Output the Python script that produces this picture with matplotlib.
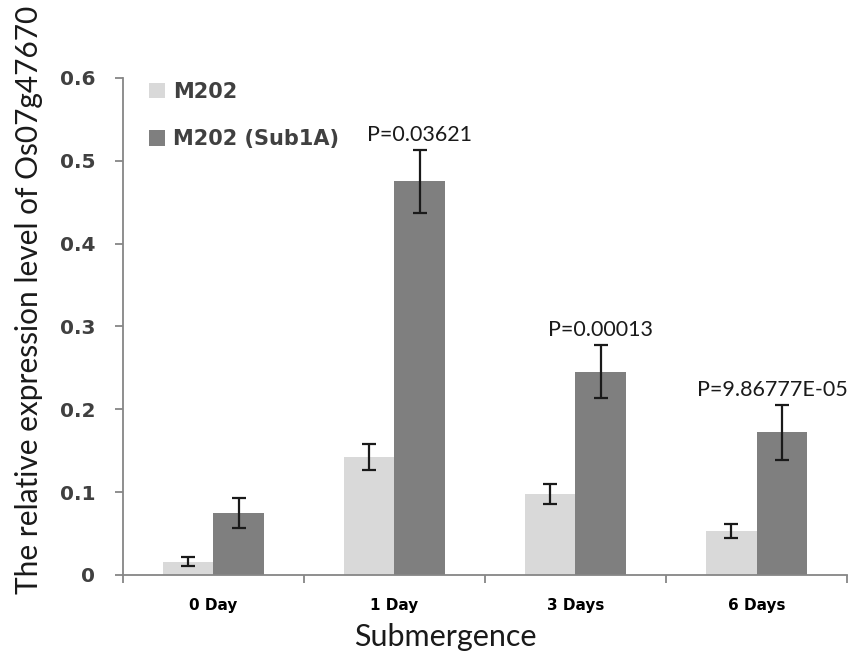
import numpy as np
import matplotlib
matplotlib.use('Agg')
import matplotlib.pyplot as plt

# data
categories = ['0 Day', '1 Day', '3 Days', '6 Days']
m202 = [0.016, 0.142, 0.098, 0.053]
m202_err = [0.005, 0.016, 0.012, 0.009]
sub1a = [0.075, 0.475, 0.245, 0.172]
sub1a_err = [0.018, 0.038, 0.032, 0.033]
p_labels = ['', 'P=0.03621', 'P=0.00013', 'P=9.86777E-05']
p_dx = [0, 0, 0, -0.05]  # last label nudged left so it fits

fig = plt.figure(figsize=(8.53, 6.6), dpi=100)
ax = fig.add_axes([0.144, 0.129, 0.849, 0.753])

x = np.arange(len(categories))
w = 0.28
ax.bar(x - w/2, m202, w, color='#d9d9d9', label='M202', zorder=2)
ax.bar(x + w/2, sub1a, w, color='#7f7f7f', label='M202 (Sub1A)', zorder=2)
ax.errorbar(x - w/2, m202, yerr=m202_err, fmt='none', ecolor='#1a1a1a',
            elinewidth=1.6, capsize=5, capthick=1.6, zorder=3)
ax.errorbar(x + w/2, sub1a, yerr=sub1a_err, fmt='none', ecolor='#1a1a1a',
            elinewidth=1.6, capsize=5, capthick=1.6, zorder=3)

for i, txt in enumerate(p_labels):
    if txt:
        ax.text(x[i] + w/2 + p_dx[i], sub1a[i] + sub1a_err[i] + 0.006, txt,
                ha='center', va='bottom', fontsize=15.5, family='Lato', color='#1a1a1a')

ax.set_xlim(-0.5, len(categories) - 0.5)
ax.set_ylim(0, 0.6)
ax.set_yticks(np.arange(0, 0.61, 0.1))
ax.set_yticklabels(['0', '0.1', '0.2', '0.3', '0.4', '0.5', '0.6'],
                   fontsize=14.5, fontweight='bold', color='#404040')
ax.set_xticks(np.arange(-0.5, len(categories), 1.0))
ax.set_xticklabels([])
ax.set_xticks(x, minor=True)
ax.set_xticklabels(categories, minor=True, fontsize=11, fontweight='bold')
ax.tick_params(axis='x', which='minor', length=0, pad=17)
ax.tick_params(axis='x', which='major', length=6, color='#868686', width=1.3)
ax.tick_params(axis='y', length=6, color='#868686', width=1.3, pad=14)

for s in ['top', 'right']:
    ax.spines[s].set_visible(False)
for s in ['left', 'bottom']:
    ax.spines[s].set_color('#868686')
    ax.spines[s].set_linewidth(1.3)

ax.set_xlabel('Submergence', fontsize=22, family='Lato', color='#1a1a1a')
ax.xaxis.set_label_coords(0.445, -0.097)
ax.set_ylabel('The relative expression level of Os07g47670', fontsize=21.5, family='Lato', color='#1a1a1a')
ax.yaxis.set_label_coords(-0.11, 0.553)

leg = ax.legend(loc='upper left', bbox_to_anchor=(0.01, 1.03), frameon=False,
                prop={'family': 'DejaVu Sans', 'size': 15, 'weight': 'bold'},
                handlelength=0.8, handleheight=0.8,
                handletextpad=0.35, labelspacing=1.3)
for t in leg.get_texts():
    t.set_color('#404040')

fig.savefig('out.png', dpi=100)
